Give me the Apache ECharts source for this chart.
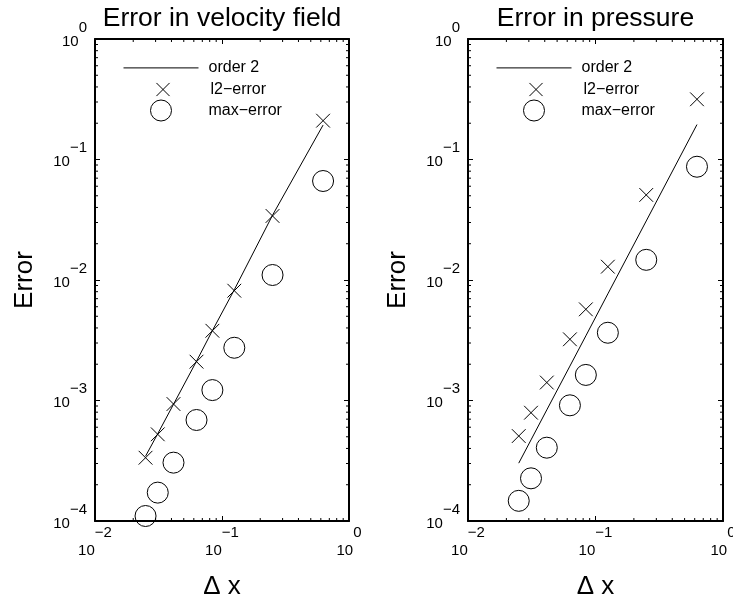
<!DOCTYPE html>
<html>
<head>
<meta charset="utf-8">
<title>Error plots</title>
<style>
  html, body { margin: 0; padding: 0; background: #fff; }
  #chart { width: 733px; height: 601px; }
</style>
<script src="https://cdn.jsdelivr.net/npm/echarts@6/dist/echarts.min.js"></script>
</head>
<body>
<div id="chart"></div>
<script>
// grid spacing, same in both panels
const dx = [0.625, 0.25, 0.125, 0.084, 0.063, 0.0415, 0.0312, 0.025];

// velocity field
const velOrder2 = [0.193, 0.0345, 0.0083, 0.0038, 0.00212, 0.00093, 0.00053, 0.000345];
const velL2 = [0.210, 0.0340, 0.00815, 0.00379, 0.00210, 0.000935, 0.000524, 0.000335];
const velMax = [0.0663, 0.0110, 0.00274, 0.00122, 0.000689, 0.000305, 0.000172, 0.000110];

// pressure
const preOrder2 = [0.195, 0.0309, 0.00767, 0.00344, 0.00193, 0.000836, 0.000471, 0.000302];
const preL2 = [0.316, 0.0508, 0.0129, 0.00571, 0.00322, 0.00141, 0.000792, 0.000507];
const preMax = [0.0871, 0.0147, 0.00365, 0.00163, 0.000912, 0.000406, 0.000226, 0.000147];

const titles = ['Error in velocity field', 'Error in pressure'];
const legendNames = ['order 2', 'l2\u2212error', 'max\u2212error'];

// tick values and their exponent labels
const xTicks = [0.01, 0.1, 1];
const xTickExp = ['\u22122', '\u22121', '0'];
const yTicks = [1e-4, 1e-3, 1e-2, 1e-1, 1];
const yTickExp = ['\u22124', '\u22123', '\u22122', '\u22121', '0'];
const xDecades = [0.01, 0.1];
const yDecades = [1e-4, 1e-3, 1e-2, 1e-1];
const minorMult = [2, 3, 4, 5, 6, 7, 8, 9];

const font = 'Liberation Sans, Arial, Helvetica, sans-serif';
const crossPath = 'path://M-3,-3M13,13M0,0L10,10M10,0L0,10';

const grids = [
  { left: 95, top: 39, width: 254, height: 482, outerBoundsMode: 'none' },
  { left: 468, top: 39, width: 255, height: 482, outerBoundsMode: 'none' }
];

function expFormatter(ticks, exps) {
  return function (v) {
    let idx = 0;
    ticks.forEach(function (t, i) {
      if (Math.abs(Math.log10(v) - Math.log10(t)) < 1e-6) idx = i;
    });
    return '{b|10}{e|' + exps[idx] + '}';
  };
}

const tickStyle = { show: true, inside: true, length: 5, lineStyle: { color: '#000', width: 1 } };
const lineStyle = { show: true, onZero: false, lineStyle: { color: '#000', width: 2 } };

function xRich() {
  return {
    b: { fontSize: 15, lineHeight: 16, fontFamily: font, color: '#000', verticalAlign: 'bottom', padding: [0, 0, 0, 0] },
    e: { fontSize: 15, lineHeight: 16, fontFamily: font, color: '#000', verticalAlign: 'bottom', padding: [0, 0, 18, 0] }
  };
}
function yRich() {
  return {
    b: { fontSize: 15, lineHeight: 16, fontFamily: font, color: '#000', verticalAlign: 'bottom', padding: [0, 0, 0, 0] },
    e: { fontSize: 15, lineHeight: 16, fontFamily: font, color: '#000', verticalAlign: 'bottom', padding: [0, 0, 14, 0] }
  };
}

function minorXItem(params, api) {
  const cs = params.coordSys;
  const x = api.coord([api.value(0), api.value(1)])[0];
  const b = cs.y + cs.height, t = cs.y;
  return { type: 'group', children: [
    { type: 'line', shape: { x1: x, y1: b, x2: x, y2: b - 3 }, style: { stroke: '#000', lineWidth: 1 } },
    { type: 'line', shape: { x1: x, y1: t, x2: x, y2: t + 3 }, style: { stroke: '#000', lineWidth: 1 } }
  ] };
}
function minorYItem(params, api) {
  const cs = params.coordSys;
  const y = api.coord([api.value(0), api.value(1)])[1];
  const l = cs.x, r = cs.x + cs.width;
  return { type: 'group', children: [
    { type: 'line', shape: { x1: l, y1: y, x2: l + 3, y2: y }, style: { stroke: '#000', lineWidth: 1 } },
    { type: 'line', shape: { x1: r, y1: y, x2: r - 3, y2: y }, style: { stroke: '#000', lineWidth: 1 } }
  ] };
}

const minorX = [];
xDecades.forEach(function (d) { minorMult.forEach(function (m) { minorX.push([d * m, 1e-4]); }); });
const minorY = [];
yDecades.forEach(function (d) { minorMult.forEach(function (m) { minorY.push([0.01, d * m]); }); });

const panels = [[velOrder2, velL2, velMax], [preOrder2, preL2, preMax]];

const xAxis = [], yAxis = [], series = [], title = [], legend = [];
grids.forEach(function (g, i) {
  xAxis.push({
    type: 'log', logBase: 10, min: 0.01, max: 1, gridIndex: i, position: 'bottom',
    name: '\u0394 x', nameLocation: 'middle', nameGap: 53,
    nameTextStyle: { fontSize: 26, fontFamily: font, color: '#000' },
    axisLine: lineStyle, axisTick: tickStyle, splitLine: { show: false }, minorTick: { show: false },
    axisLabel: { show: true, margin: 21, showMinLabel: true, showMaxLabel: true, hideOverlap: false,
      formatter: expFormatter(xTicks, xTickExp), rich: xRich() }
  });
  xAxis.push({
    type: 'log', logBase: 10, min: 0.01, max: 1, gridIndex: i, position: 'top',
    axisLine: lineStyle, axisTick: tickStyle, splitLine: { show: false }, axisLabel: { show: false }
  });
  yAxis.push({
    type: 'log', logBase: 10, min: 1e-4, max: 1, gridIndex: i, position: 'left',
    name: 'Error', nameLocation: 'middle', nameGap: 57,
    nameTextStyle: { fontSize: 26, fontFamily: font, color: '#000' },
    axisLine: lineStyle, axisTick: tickStyle, splitLine: { show: false },
    axisLabel: { show: true, margin: 8, padding: [4, 0, 0, 0], showMinLabel: true, showMaxLabel: true, hideOverlap: false,
      formatter: expFormatter(yTicks, yTickExp), rich: yRich() }
  });
  yAxis.push({
    type: 'log', logBase: 10, min: 1e-4, max: 1, gridIndex: i, position: 'right',
    axisLine: lineStyle, axisTick: tickStyle, splitLine: { show: false }, axisLabel: { show: false }
  });

  const p = panels[i];
  const xi = 2 * i, yi = 2 * i;
  series.push({
    name: legendNames[0], type: 'line', xAxisIndex: xi, yAxisIndex: yi,
    data: dx.map(function (d, k) { return [d, p[0][k]]; }),
    symbol: 'none', clip: false, lineStyle: { color: '#000', width: 1 }, itemStyle: { color: '#000' }
  });
  series.push({
    name: legendNames[1], type: 'scatter', xAxisIndex: xi, yAxisIndex: yi,
    data: dx.map(function (d, k) { return [d, p[1][k]]; }),
    symbol: crossPath, symbolSize: 22, symbolKeepAspect: true, clip: false,
    itemStyle: { color: 'none', borderColor: '#000', borderWidth: 1, opacity: 1 }
  });
  series.push({
    name: legendNames[2], type: 'scatter', xAxisIndex: xi, yAxisIndex: yi,
    data: dx.map(function (d, k) { return [d, p[2][k]]; }),
    symbol: 'circle', symbolSize: 21, clip: false,
    itemStyle: { color: 'rgba(0,0,0,0)', borderColor: '#000', borderWidth: 1, opacity: 1 }
  });
  series.push({
    type: 'custom', xAxisIndex: xi, yAxisIndex: yi, renderItem: minorXItem, data: minorX, clip: false, silent: true
  });
  series.push({
    type: 'custom', xAxisIndex: xi, yAxisIndex: yi, renderItem: minorYItem, data: minorY, clip: false, silent: true
  });

  title.push({
    text: titles[i], left: g.left + g.width / 2, top: 5, textAlign: 'center', padding: 0,
    textStyle: { fontSize: 26.5, fontWeight: 'normal', color: '#000', fontFamily: font, lineHeight: 28 }
  });
  // one legend per entry so each row sits at its own height;
  // marker icons are centred in the 75px slot, the layout box starts at the icon
  const legendTops = [59.5, 76.5, 99.5];
  legendNames.forEach(function (n, k) {
    legend.push({
      orient: 'vertical', left: g.left + 28 + (k === 0 ? 0 : 27), top: legendTops[k], padding: 0,
      itemWidth: 75, itemHeight: 21, selectedMode: false,
      itemStyle: { borderWidth: 1 }, lineStyle: { width: 1 },
      textStyle: { fontSize: 16, fontFamily: font, color: '#000', padding: [0, 0, 0, 5] },
      data: [k === 0 ? { name: n, itemStyle: { opacity: 0 } } : n]
    });
  });
});

const chart = echarts.init(document.getElementById('chart'), null, { renderer: 'canvas' });
chart.setOption({
  animation: false,
  backgroundColor: '#fff',
  title: title,
  legend: legend,
  grid: grids,
  xAxis: xAxis,
  yAxis: yAxis,
  series: series
});
</script>
</body>
</html>
